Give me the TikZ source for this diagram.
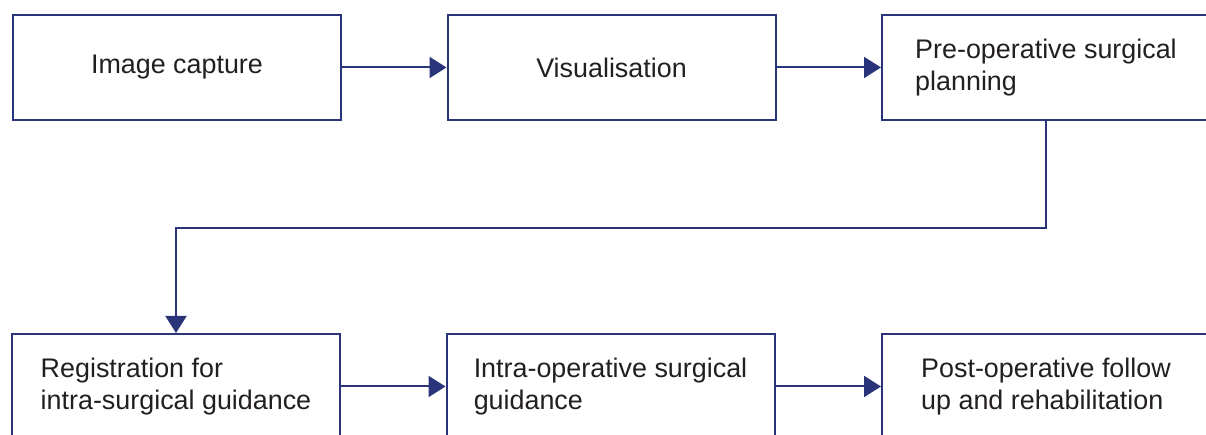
\documentclass[tikz,border=0pt]{standalone}
\usepackage{fontspec}
\setmainfont{Liberation Sans}
\usetikzlibrary{arrows.meta}
\definecolor{navy}{RGB}{41,52,122}
\definecolor{inkgrey}{RGB}{35,31,32}
\begin{document}
\begin{tikzpicture}
	          \useasboundingbox (0,0) rectangle (24.12,8.7);
	          \clip (0,0) rectangle (24.12,8.7);
	          \begin{scope}[every node/.style={rectangle,draw=navy,line width=0.04cm,fill=white,
	              minimum width=6.56cm,minimum height=2.1cm,inner sep=0pt,align=left,
	              text=inkgrey,font=\fontsize{15.3}{18.5}\selectfont}]
	            \node (capture) at (3.54,7.35) {Image capture};
	            \node (visual) at (12.23,7.35) {Visualisation};
	            \node (preop) at (20.92,7.35) {Pre-operative surgical\\planning};
	            \node (regist) at (3.52,0.97) {Registration for\\intra-surgical guidance};
	            \node (intraop) at (12.21,0.97) {Intra-operative surgical\\guidance};
	            \node (postop) at (20.92,0.97) {Post-operative follow\\up and rehabilitation};
	          \end{scope}
	          \begin{scope}[every edge/.style={draw=navy,line width=0.04cm,-{Triangle[length=0.34cm,width=0.42cm]}}]
	            \path (capture) edge (visual);
	            \path (visual) edge (preop);
	            \path (regist) edge (intraop);
	            \path (intraop) edge (postop);
	          \end{scope}
	          \draw[navy,line width=0.04cm,-{Triangle[length=0.34cm,width=0.42cm]}]
	            (preop.south) -- ++(0,-2.14) -| (regist.north);
	        \end{tikzpicture}
\end{document}
